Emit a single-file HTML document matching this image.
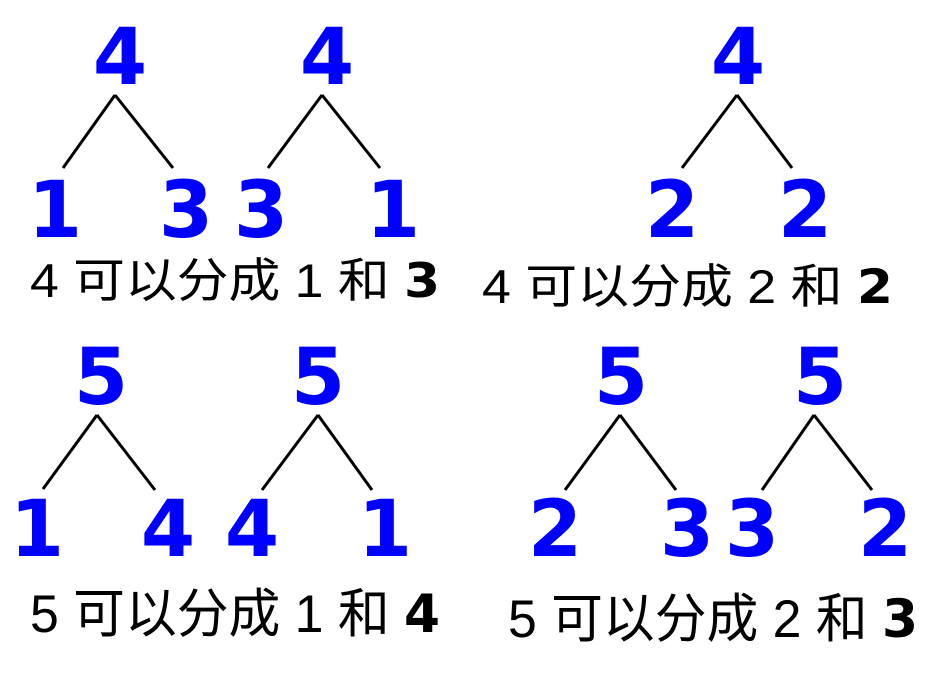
<!DOCTYPE html>
<html><head><meta charset="utf-8"><style>
html,body{margin:0;padding:0;background:#fff;}
svg{display:block;}
.d{font-family:"DejaVu Sans",sans-serif;font-weight:bold;font-size:78px;fill:#0000ff;text-anchor:middle;}
.t{font-family:"Liberation Sans","Noto Sans CJK SC",sans-serif;font-size:47px;fill:#000;}
.b{font-family:"DejaVu Sans",sans-serif;font-weight:bold;}
line{stroke:#000;stroke-width:3;}
</style></head><body>
<svg width="950" height="700" viewBox="0 0 950 700">
<text class="d" x="120" y="84">4</text>
<line x1="115" y1="95" x2="63" y2="168"/><line x1="115" y1="95" x2="173" y2="168"/>
<text class="d" x="55" y="237">1</text><text class="d" x="186" y="237">3</text>

<text class="d" x="327" y="84">4</text>
<line x1="322" y1="95" x2="268" y2="168"/><line x1="322" y1="95" x2="380" y2="168"/>
<text class="d" x="261" y="237">3</text><text class="d" x="393" y="237">1</text>

<text class="d" x="738" y="84">4</text>
<line x1="737" y1="95" x2="682" y2="168"/><line x1="737" y1="95" x2="792" y2="168"/>
<text class="d" x="672" y="237">2</text><text class="d" x="805" y="237">2</text>

<text class="t" x="30" y="297" textLength="410" lengthAdjust="spacingAndGlyphs">4 可以分成 1 和 <tspan class="b">3</tspan></text>
<text class="t" x="482" y="303" textLength="411" lengthAdjust="spacingAndGlyphs">4 可以分成 2 和 <tspan class="b">2</tspan></text>

<text class="d" x="101" y="404">5</text>
<line x1="97" y1="415" x2="43" y2="489"/><line x1="97" y1="415" x2="155" y2="490"/>
<text class="d" x="37" y="556">1</text><text class="d" x="168" y="556">4</text>

<text class="d" x="318" y="404">5</text>
<line x1="318" y1="415" x2="262" y2="490"/><line x1="318" y1="415" x2="372" y2="490"/>
<text class="d" x="252" y="556">4</text><text class="d" x="385" y="556">1</text>

<text class="d" x="621" y="404">5</text>
<line x1="620" y1="415" x2="565" y2="490"/><line x1="620" y1="415" x2="676" y2="490"/>
<text class="d" x="555" y="556">2</text><text class="d" x="687" y="556">3</text>

<text class="d" x="820" y="404">5</text>
<line x1="814" y1="415" x2="762" y2="490"/><line x1="814" y1="415" x2="872" y2="490"/>
<text class="d" x="752" y="556">3</text><text class="d" x="885" y="556">2</text>

<g transform="translate(0,632) scale(1,1.12)">
<text class="t" x="30" y="0" textLength="410" lengthAdjust="spacingAndGlyphs">5 可以分成 1 和 <tspan class="b">4</tspan></text>
</g>
<g transform="translate(0,637) scale(1,1.12)">
<text class="t" x="508" y="0" textLength="410" lengthAdjust="spacingAndGlyphs">5 可以分成 2 和 <tspan class="b">3</tspan></text>
</g>
</svg>
</body></html>
